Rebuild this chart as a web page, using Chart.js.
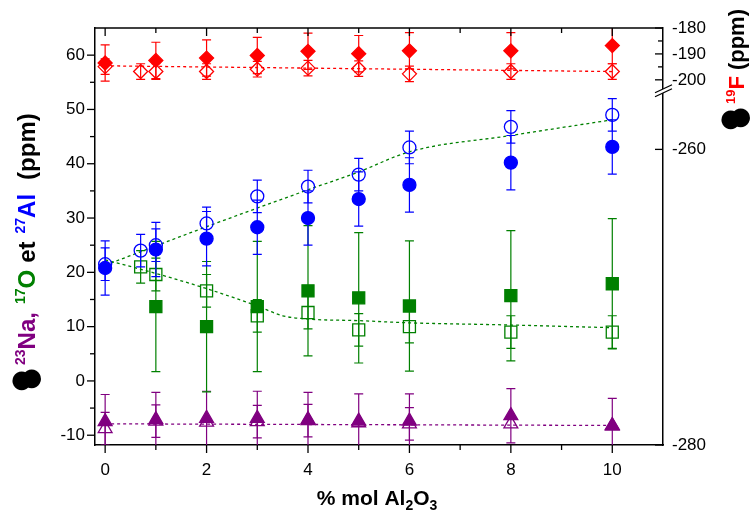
<!DOCTYPE html>
<html>
<head>
<meta charset="utf-8">
<title>% mol Al2O3</title>
<script src="https://cdn.jsdelivr.net/npm/chart.js@4.4.1/dist/chart.umd.min.js"></script>
<style>
  html, body { margin: 0; padding: 0; background: #fff; }
  canvas { display: block; }
</style>
</head>
<body>
<canvas id="chart" width="750" height="523"></canvas>
<script>
// x positions (% mol Al2O3)
const xFilled = [0, 1, 2, 3, 4, 5, 6, 8, 10];
const xOpen = [0, 0.7, 1, 2, 3, 4, 5, 6, 8, 10];
const xOxy = [1, 2, 3, 4, 5, 6, 8, 10];
const xOxyOpen = [0.7, 1, 2, 3, 4, 5, 6, 8, 10];

// 19F (ppm) - right axis
const fFilled = [-193.5, -192.5, -191.6, -190.6, -189.0, -189.9, -188.8, -188.8, -186.8];
const fFilledErr = [7, 7, 7, 7, 7, 7, 7, 7, 7];
const fOpen = [-194.9, -196.8, -196.8, -196.8, -195.9, -195.5, -195.7, -197.7, -196.8, -196.8];
const fOpenErr = [3, 3, 3, 3, 3, 3, 3, 3, 3, 3];
const fFitX = [0, 10];
const fFitY = [-194.6, -196.8];

// 27Al (ppm)
const alFilled = [20.8, 24.2, 26.2, 28.3, 30.0, 33.5, 36.1, 40.2, 43.1];
const alFilledErr = [5, 5, 5, 5, 5, 5, 5, 5, 5];
const alOpen = [21.5, 24.0, 25.0, 29.0, 34.0, 35.8, 38.0, 43.0, 46.8, 49.0];
const alOpenErr = [3, 3, 3, 3, 3, 3, 3, 3, 3, 3];
const alFitX = [0, 2, 4, 5, 6, 8, 10];
const alFitY = [21.3, 28.4, 35.2, 38.5, 42.2, 45.2, 48.1];

// 17O (ppm)
const oFilled = [13.7, 10.0, 13.7, 16.6, 15.3, 13.8, 15.7, 17.9];
const oFilledErr = [12, 12, 12, 12, 12, 12, 12, 12];
const oOpen = [21.0, 19.6, 16.6, 12.0, 12.6, 9.4, 10.0, 9.0, 9.0];
const oOpenErr = [3, 3, 3, 3, 3, 3, 3, 3, 3];
const oFitX = [0, 1, 2, 3, 3.5, 4, 5, 6, 8, 10];
const oFitY = [22.3, 19.8, 17.0, 13.8, 12.0, 11.4, 11.1, 10.7, 10.3, 9.8];

// 23Na (ppm)
const naFilled = [-7.5, -7.1, -6.9, -6.9, -7.1, -7.4, -7.4, -6.4, -8.2];
const naFilledErr = [5, 5, 5, 5, 5, 5, 5, 5, 5];
const naOpen = [-8.8, -7.4, -7.6, -7.5, -7.3, -7.7, -7.9, -7.9, -8.3];
const naOpenErr = [3, 3, 0, 3, 3, 0, 3, 0, 0];
const naFitX = [0, 10];
const naFitY = [-7.9, -8.2];

// axis ticks
const xTicks = [0, 2, 4, 6, 8, 10];
const xMinor = [1, 3, 5, 7, 9];
const yTicks = [-10, 0, 10, 20, 30, 40, 50, 60];
const yMinor = [-5, 5, 15, 25, 35, 45, 55];
const fTopTicks = [-200, -190, -180];
const fTopMinor = [-195, -185];
const fLowTicks = [-280, -260];

const RED = "#ff0000", BLUE = "#0000ff", GREEN = "#008000", PURPLE = "#800080";
const FONT = "'Liberation Sans', Arial, sans-serif";

function pts(xs, ys) {
  return xs.map((x, i) => ({ x: x, y: ys[i] }));
}

function markers(label, xs, ys, errs, color, style, radius, filled, axis) {
  return {
    label: label,
    data: pts(xs, ys),
    errs: errs,
    yAxisID: axis || "y",
    showLine: false,
    pointStyle: style,
    pointRadius: radius,
    pointHoverRadius: radius,
    pointBorderWidth: 1.3,
    pointBackgroundColor: filled ? color : "rgba(0,0,0,0)",
    pointBorderColor: color,
    borderColor: color,
    backgroundColor: color
  };
}

function fitLine(label, xs, ys, color, axis) {
  return {
    label: label,
    data: pts(xs, ys),
    yAxisID: axis || "y",
    showLine: true,
    pointRadius: 0,
    borderColor: color,
    borderWidth: 1.3,
    borderDash: [3, 3],
    cubicInterpolationMode: "monotone"
  };
}

// error bars, drawn right after each dataset
const errorBars = {
  id: "errorBars",
  afterDatasetDraw(chart, args) {
    const ds = chart.data.datasets[args.index];
    if (!ds.errs) return;
    const xs = chart.scales[args.meta.xAxisID];
    const ys = chart.scales[args.meta.yAxisID];
    const a = chart.chartArea;
    const ctx = chart.ctx;
    ctx.save();
    ctx.beginPath();
    ctx.rect(a.left, a.top, a.right - a.left, a.bottom - a.top);
    ctx.clip();
    ctx.strokeStyle = ds.borderColor;
    ctx.lineWidth = 1.2;
    ds.data.forEach((p, i) => {
      const e = ds.errs[i];
      if (!e) return;
      const px = xs.getPixelForValue(p.x);
      const hi = ys.getPixelForValue(p.y + e);
      const lo = ys.getPixelForValue(p.y - e);
      ctx.beginPath();
      ctx.moveTo(px, hi); ctx.lineTo(px, lo);
      ctx.moveTo(px - 4.5, hi); ctx.lineTo(px + 4.5, hi);
      ctx.moveTo(px - 4.5, lo); ctx.lineTo(px + 4.5, lo);
      ctx.stroke();
    });
    ctx.restore();
  }
};

function seg(ctx, x1, y1, x2, y2) {
  ctx.beginPath();
  ctx.moveTo(x1, y1);
  ctx.lineTo(x2, y2);
  ctx.stroke();
}

function drawDot(ctx, cx, cy, diam) {
  ctx.font = "100px 'DejaVu Sans'";
  let m = ctx.measureText("\u25CF");
  const size = 100 * diam / (m.actualBoundingBoxAscent + m.actualBoundingBoxDescent);
  ctx.font = size + "px 'DejaVu Sans'";
  m = ctx.measureText("\u25CF");
  ctx.fillStyle = "#000";
  ctx.fillText("\u25CF",
    cx - (m.actualBoundingBoxRight - m.actualBoundingBoxLeft) / 2,
    cy + (m.actualBoundingBoxAscent - m.actualBoundingBoxDescent) / 2);
}

// draws a run of text pieces along the baseline, returns end position
function drawParts(ctx, parts, start, baseY) {
  let pos = start;
  parts.forEach(p => {
    if (p.gap) { pos += p.gap; return; }
    ctx.font = p.font;
    ctx.fillStyle = p.color;
    ctx.fillText(p.text, pos, baseY + (p.dy || 0));
    pos += ctx.measureText(p.text).width;
  });
  return pos;
}

const BIG = "bold 24px " + FONT;
const SUP = "bold 14px " + FONT;
const BIG_R = "bold 22px " + FONT;
const SUP_R = "bold 13px " + FONT;

const leftTitle = [
  { text: "23", font: SUP, color: PURPLE, dy: -10 },
  { text: "Na,", font: BIG, color: PURPLE },
  { gap: 8 },
  { text: "17", font: SUP, color: GREEN, dy: -10 },
  { text: "O", font: BIG, color: GREEN },
  { gap: 7 },
  { text: "et", font: BIG, color: "#000" },
  { gap: 8 },
  { text: "27", font: SUP, color: BLUE, dy: -10 },
  { text: "Al", font: BIG, color: BLUE },
  { gap: 14 },
  { text: "(ppm)", font: BIG, color: "#000" }
];
const rightTitle = [
  { text: "19", font: SUP_R, color: RED, dy: -9 },
  { text: "F", font: BIG_R, color: RED },
  { gap: 6 },
  { text: "(ppm)", font: BIG_R, color: "#000" }
];
const xTitle = [
  { text: "% mol Al", font: "bold 21px " + FONT, color: "#000" },
  { text: "2", font: "bold 14px " + FONT, color: "#000", dy: 5 },
  { text: "O", font: "bold 21px " + FONT, color: "#000" },
  { text: "3", font: "bold 14px " + FONT, color: "#000", dy: 5 }
];

function rotatedTitle(ctx, parts, bx, by) {
  ctx.save();
  ctx.translate(bx, by);
  ctx.rotate(-Math.PI / 2);
  ctx.textAlign = "left";
  ctx.textBaseline = "alphabetic";
  drawDot(ctx, 9, -14, 19);
  drawDot(ctx, 11, -4, 19);
  drawParts(ctx, parts, 25, 0);
  ctx.restore();
}

const frame = {
  id: "frame",
  afterDraw(chart) {
    const { ctx, chartArea: a, scales } = chart;
    ctx.save();
    ctx.strokeStyle = "#000";
    ctx.lineWidth = 1.5;
    seg(ctx, a.left, a.top, a.right, a.top);

    ctx.lineWidth = 1.3;
    xTicks.forEach(v => {
      const px = scales.x.getPixelForValue(v);
      seg(ctx, px, a.bottom, px, a.bottom + 8);
      seg(ctx, px, a.top, px, a.top + 8);
    });
    xMinor.forEach(v => {
      const px = scales.x.getPixelForValue(v);
      seg(ctx, px, a.bottom, px, a.bottom + 5);
      seg(ctx, px, a.top, px, a.top + 5);
    });
    yTicks.forEach(v => {
      const py = scales.y.getPixelForValue(v);
      seg(ctx, a.left - 8, py, a.left, py);
    });
    yMinor.forEach(v => {
      const py = scales.y.getPixelForValue(v);
      seg(ctx, a.left - 5, py, a.left, py);
    });
    fTopTicks.forEach(v => {
      const py = scales.yF.getPixelForValue(v);
      seg(ctx, a.right - 8, py, a.right, py);
    });
    fTopMinor.forEach(v => {
      const py = scales.yF.getPixelForValue(v);
      seg(ctx, a.right - 5, py, a.right, py);
    });
    fLowTicks.forEach(v => {
      const py = scales.yF2.getPixelForValue(v);
      seg(ctx, a.right - 8, py, a.right, py);
    });

    // axis break on the right axis
    const y0 = scales.yF.bottom;
    const x0 = a.right;
    ctx.fillStyle = "#fff";
    ctx.beginPath();
    ctx.moveTo(x0 - 8, y0 + 1);
    ctx.lineTo(x0 + 9, y0 - 7);
    ctx.lineTo(x0 + 9, y0 - 3);
    ctx.lineTo(x0 - 8, y0 + 5);
    ctx.closePath();
    ctx.fill();
    ctx.lineWidth = 1.2;
    seg(ctx, x0 - 8, y0 + 1, x0 + 9, y0 - 7);
    seg(ctx, x0 - 8, y0 + 5, x0 + 9, y0 - 3);

    // titles
    rotatedTitle(ctx, leftTitle, 35, 390);
    rotatedTitle(ctx, rightTitle, 744, 129);

    ctx.textAlign = "left";
    ctx.textBaseline = "alphabetic";
    let w = 0;
    xTitle.forEach(p => { ctx.font = p.font; w += ctx.measureText(p.text).width; });
    drawParts(ctx, xTitle, 377 - w / 2, 505);
    ctx.restore();
  }
};

// datasets: index 0 is drawn last (on top)
const datasets = [
  markers("19F", xFilled, fFilled, fFilledErr, RED, "rectRot", 7, true, "yF"),
  markers("27Al", xFilled, alFilled, alFilledErr, BLUE, "circle", 6.5, true),
  markers("17O", xOxy, oFilled, oFilledErr, GREEN, "rect", 8.5, true),
  markers("23Na", xFilled, naFilled, naFilledErr, PURPLE, "triangle", 8, true),
  markers("19F open", xOpen, fOpen, fOpenErr, RED, "rectRot", 7, false, "yF"),
  markers("27Al open", xOpen, alOpen, alOpenErr, BLUE, "circle", 6.5, false),
  markers("17O open", xOxyOpen, oOpen, oOpenErr, GREEN, "rect", 8.5, false),
  markers("23Na open", xFilled, naOpen, naOpenErr, PURPLE, "triangle", 8, false),
  fitLine("19F fit", fFitX, fFitY, RED, "yF"),
  fitLine("27Al fit", alFitX, alFitY, GREEN),
  fitLine("17O fit", oFitX, oFitY, GREEN),
  fitLine("23Na fit", naFitX, naFitY, PURPLE)
];

const tickFont = { family: FONT, size: 17 };

function axisBase(ticksArr) {
  return {
    type: "linear",
    grid: { drawOnChartArea: false, drawTicks: false },
    border: { color: "#000", width: 1.5 },
    afterBuildTicks: s => { s.ticks = ticksArr.map(v => ({ value: v })); },
    ticks: { color: "#000", font: tickFont, maxRotation: 0, autoSkip: false }
  };
}

const xAxis = axisBase(xTicks);
Object.assign(xAxis, { position: "bottom", min: -0.2, max: 11, afterFit: s => { s.height = 78; } });
xAxis.ticks.padding = 15;

const yAxis = axisBase(yTicks);
Object.assign(yAxis, { position: "left", min: -11.8, max: 65, afterFit: s => { s.width = 95; } });
yAxis.ticks.padding = 10;

const fAxis = axisBase(fTopTicks);
Object.assign(fAxis, { position: "right", stack: "f", stackWeight: 63.7, min: -204.6, max: -180, afterFit: s => { s.width = 87; } });
fAxis.ticks.padding = 9;

const fAxisLow = axisBase(fLowTicks);
Object.assign(fAxisLow, { position: "right", stack: "f", stackWeight: 353, min: -280, max: -256.1, afterFit: s => { s.width = 87; } });
fAxisLow.ticks.padding = 9;

new Chart(document.getElementById("chart"), {
  type: "scatter",
  data: { datasets: datasets },
  options: {
    responsive: false,
    animation: false,
    layout: { padding: { top: 28, left: 0, right: 0, bottom: 0 } },
    plugins: { legend: { display: false }, tooltip: { enabled: false } },
    scales: { x: xAxis, y: yAxis, yF: fAxis, yF2: fAxisLow }
  },
  plugins: [errorBars, frame]
});
</script>
</body>
</html>
